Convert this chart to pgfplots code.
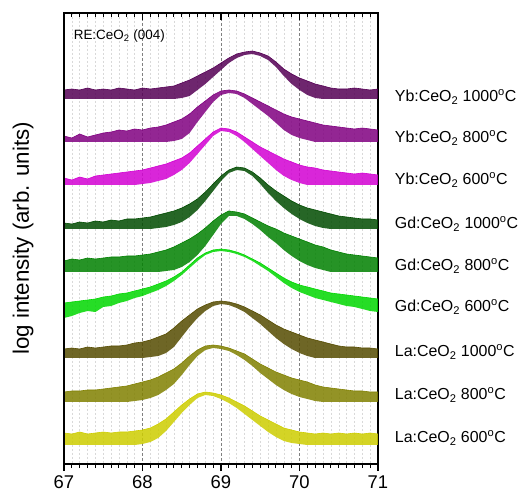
\documentclass[border=0pt]{standalone}
\usepackage{pgfplots}
\pgfplotsset{compat=1.18}
\usepackage{pgfplotstable}
\usepgfplotslibrary{fillbetween}
\usepackage{fontspec}
\setmainfont{Liberation Sans}

\definecolor{yb1}{RGB}{85,0,85}
\definecolor{yb8}{RGB}{128,0,128}
\definecolor{yb6}{RGB}{210,0,210}
\definecolor{gd1}{RGB}{0,75,0}
\definecolor{gd8}{RGB}{0,128,0}
\definecolor{gd6}{RGB}{0,215,0}
\definecolor{la1}{RGB}{85,75,0}
\definecolor{la8}{RGB}{128,128,0}
\definecolor{la6}{RGB}{205,205,0}

% upper (u) and lower (l) edge of each noisy trace, in plot units (y grows downward)
\pgfplotstableread{
x    u1 l1 u2  l2  u3  l3  u4  l4  u5  l5  u6  l6  u7  l7  u8  l8  u9  l9
67.0 90 99 136 142 178 185 223 229 261 272 303 318 349 358 392 402 433 445
67.1 89 99 138 142 180 185 224 229 259 272 302 316 348 358 391 402 434 445
67.2 90 99 134 142 177 185 222 229 260 272 301 313 349 358 391 402 432 445
67.3 88 99 137 142 179 185 223 229 258 272 300 311 347 358 390 402 434 445
67.4 90 99 135 142 176 185 221 229 259 272 299 312 348 358 390 402 433 445
67.5 89 99 133 142 175 185 222 229 258 272 297 307 347 358 389 402 432 445
67.6 90 99 132 142 174 185 220 229 257 272 296 306 346 358 388 402 433 445
67.7 88 99 130 142 173 185 221 229 257 272 294 303 346 358 387 402 432 445
67.8 89 99 131 142 172 185 219 229 256 272 293 301 345 358 386 402 432 445
67.9 90 99 129 142 171 185 219 229 256 272 291 298 343 358 384 401 431 445
68.0 88 99 130 142 170 184 218 229 255 272 289 296 342 358 382 400 430 444
68.1 89 99 128 142 168 183 217 229 254 272 287 293 340 357 380 398 428 442
68.2 88 99 127 142 166 181 215 228 252 272 284 290 337 356 377 395 424 438
68.3 87 99 125 142 164 179 213 227 250 271 281 286 334 353 373 390 419 431
68.4 86 99 122 141 161 175 211 225 247 270 277 281 328 347 369 384 412 422
68.5 83 98 119 139 158 170 208 222 243 267 272 275 321 337 363 375 405 413
68.6 80 96 114 133 153 163 204 217 239 262 265 268 315 327 356 365 399 405
68.7 76 90 107 122 146 154 199 210 234 255 258 261 309 318 350 356 394 398
68.8 72 84 101 112 139 145 192 201 228 246 253 255 305 311 346 350 392 395
68.9 68 77  95 102 132 136 184 191 221 235 250 252 302 306 345 348 393 396
69.0 63 70  91  95 128 131 176 181 215 224 249 251 301 304 346 349 395 399
69.1 58 63  90  93 129 132 170 173 211 216 250 252 302 305 348 351 398 403
69.2 54 58  91  94 132 136 167 170 212 216 252 254 304 308 351 355 402 408
69.3 52 55  94  98 137 142 168 171 214 219 255 257 307 312 354 360 406 414
69.4 51 54  98 104 142 149 172 176 218 224 259 261 311 318 359 366 411 420
69.5 53 56 102 110 147 156 178 184 222 230 263 266 315 324 364 373 416 426
69.6 56 60 106 116 151 163 185 193 226 237 268 271 320 331 368 379 420 432
69.7 62 67 110 123 155 170 191 201 229 243 273 277 325 338 372 385 424 437
69.8 69 76 114 130 159 176 196 208 233 250 278 283 329 344 375 390 428 441
69.9 74 84 117 135 162 180 201 214 236 256 282 288 332 349 378 394 430 443
70.0 78 90 119 138 165 183 205 219 239 261 285 292 335 353 380 397 432 444
70.1 81 95 121 140 167 185 208 223 242 265 287 295 338 356 382 399 433 445
70.2 84 98 123 142 168 185 210 226 245 268 289 298 340 358 385 401 434 445
70.3 86 99 125 142 170 185 212 228 247 270 291 300 342 358 387 402 433 445
70.4 88 99 126 142 171 185 214 229 250 272 293 302 344 358 388 402 434 445
70.5 89 99 127 142 172 185 216 229 252 272 294 304 346 358 389 402 433 445
70.6 89 99 128 142 173 185 217 229 254 272 295 306 347 358 390 402 434 445
70.7 88 99 129 142 174 185 218 229 255 272 296 307 347 358 391 402 433 445
70.8 89 99 128 142 173 185 219 229 256 272 297 309 348 358 391 402 434 445
70.9 90 99 129 142 174 185 219 229 257 272 298 311 348 358 392 402 433 445
71.0 89 99 130 142 175 185 220 229 258 272 299 312 349 358 392 402 434 445
}\spectra

\newcommand{\trace}[2]{%
  \addplot[draw=#1, line width=0.6pt, name path=up#2] table[x=x, y=u#2] {\spectra};
  \addplot[draw=none, name path=lo#2] table[x=x, y=l#2] {\spectra};
  \addplot[fill=#1, fill opacity=0.85, draw=none] fill between[of=up#2 and lo#2];
}

\begin{document}
\begin{tikzpicture}
\begin{axis}[
    scale only axis, width=314bp, height=451bp,
    xmin=67, xmax=71, ymin=13, ymax=464, y dir=reverse,
    xtick={67,68,69,70,71}, minor x tick num=9, ytick=\empty,
    xtick pos=bottom, tick align=outside,
    major tick length=7bp, minor tick length=4bp,
    tick style={black, line width=1.1pt},
    xmajorgrids, xminorgrids,
    major grid style={gray, line width=0.7pt, dash pattern=on 3bp off 2bp},
    minor grid style={gray!30, line width=0.5pt, dash pattern=on 2bp off 2bp},
    axis line style={line width=1.5pt},
    /pgf/number format/assume math mode=true,
    ticklabel style={font=\fontsize{18.5}{20}\selectfont},
    xticklabel style={yshift=-1bp},
    clip mode=individual,
    ylabel={log intensity (arb. units)},
    ylabel style={font=\fontsize{22.4}{25}\selectfont, at={(axis description cs:-0.13,0.5)}, anchor=center},
  ]
  \trace{yb1}{1}
  \trace{yb8}{2}
  \trace{yb6}{3}
  \trace{gd1}{4}
  \trace{gd8}{5}
  \trace{gd6}{6}
  \trace{la1}{7}
  \trace{la8}{8}
  \trace{la6}{9}

  \node[anchor=west, font=\fontsize{13.5}{15}\selectfont] at (axis cs:67.08,36) {RE:CeO\textsubscript{2} (004)};
  \begin{scope}[every node/.style={anchor=west, inner sep=1bp, font=\fontsize{16}{18}\selectfont}]
  \node at (axis cs:71.2,97)  {Yb:CeO\textsubscript{2} 1000\textsuperscript{o}C};
  \node at (axis cs:71.2,138) {Yb:CeO\textsubscript{2} 800\textsuperscript{o}C};
  \node at (axis cs:71.2,180) {Yb:CeO\textsubscript{2} 600\textsuperscript{o}C};
  \node at (axis cs:71.2,224) {Gd:CeO\textsubscript{2} 1000\textsuperscript{o}C};
  \node at (axis cs:71.2,266) {Gd:CeO\textsubscript{2} 800\textsuperscript{o}C};
  \node at (axis cs:71.2,307) {Gd:CeO\textsubscript{2} 600\textsuperscript{o}C};
  \node at (axis cs:71.2,352) {La:CeO\textsubscript{2} 1000\textsuperscript{o}C};
  \node at (axis cs:71.2,395) {La:CeO\textsubscript{2} 800\textsuperscript{o}C};
  \node at (axis cs:71.2,438) {La:CeO\textsubscript{2} 600\textsuperscript{o}C};
  \end{scope}
\end{axis}
% top axis: ticks pointing into the plot
\begin{axis}[
    scale only axis, width=314bp, height=451bp,
    xmin=67, xmax=71, ymin=0, ymax=1,
    axis x line*=top, axis y line*=left, ytick=\empty,
    xtick={67,68,69,70,71}, minor x tick num=9, xticklabels={},
    tick align=inside, major tick length=7bp, minor tick length=4bp,
    tick style={black, line width=1.1pt},
    axis line style={line width=1.5pt},
  ]
  \addplot[draw=none] coordinates {(67,0) (71,1)};
\end{axis}
\pgfresetboundingbox
\path[use as bounding box] (-64bp,-35bp) rectangle (458bp,464bp);
\end{tikzpicture}
\end{document}
